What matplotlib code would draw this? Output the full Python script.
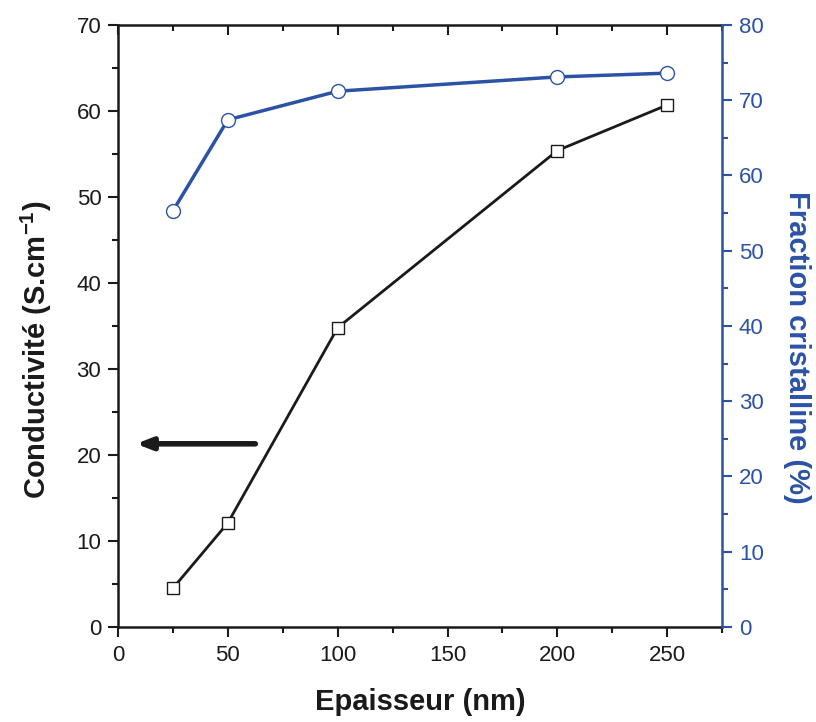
import matplotlib
matplotlib.use('Agg')
import matplotlib.pyplot as plt
from matplotlib.ticker import MultipleLocator

plt.rcParams['font.family'] = ['Liberation Sans', 'DejaVu Sans']
plt.rcParams['mathtext.fontset'] = 'custom'
plt.rcParams['mathtext.bf'] = 'Liberation Sans:bold'
plt.rcParams['mathtext.rm'] = 'Liberation Sans'

# data
epaisseur = [25, 50, 100, 200, 250]
conductivite = [4.5, 12.1, 34.8, 55.4, 60.7]
fraction = [55.3, 67.4, 71.2, 73.1, 73.6]

blue = '#2b52a5'
dark = '#1a1a1a'

fig = plt.figure(figsize=(8.16, 7.22), dpi=100)
ax = fig.add_axes([0.1446, 0.1316, 0.7404, 0.8338])
ax2 = ax.twinx()

ax.plot(epaisseur, conductivite, color=dark, lw=2, marker='s', ms=8,
        mfc='white', mec=dark, mew=1)
ax2.plot(epaisseur, fraction, color=blue, lw=2.5, marker='o', ms=10,
         mfc='white', mec=blue, mew=1)

ax.set_xlim(0, 275)
ax.set_ylim(0, 70)
ax2.set_ylim(0, 80)

ax.xaxis.set_major_locator(MultipleLocator(50))
ax.xaxis.set_minor_locator(MultipleLocator(25))
ax.yaxis.set_major_locator(MultipleLocator(10))
ax.yaxis.set_minor_locator(MultipleLocator(5))
ax2.yaxis.set_major_locator(MultipleLocator(10))
ax2.yaxis.set_minor_locator(MultipleLocator(5))

ax.tick_params(axis='x', which='both', direction='out', top=False, labelsize=16,
               width=1.5, color=dark, labelcolor=dark, pad=6)
ax.tick_params(axis='x', which='major', length=7)
ax.tick_params(axis='x', which='minor', length=4)
ax.tick_params(axis='y', which='both', direction='out', labelsize=16, width=1.5,
               color=dark, labelcolor=dark, pad=5)
ax.tick_params(axis='y', which='major', length=7)
ax.tick_params(axis='y', which='minor', length=4)
ax2.tick_params(axis='y', which='both', direction='out', labelsize=16, width=1.5,
                color=blue, labelcolor=blue, pad=5)
ax2.tick_params(axis='y', which='major', length=7)
ax2.tick_params(axis='y', which='minor', length=4)

# inward ticks along the top
top = ax.secondary_xaxis('top')
top.xaxis.set_major_locator(MultipleLocator(50))
top.xaxis.set_minor_locator(MultipleLocator(25))
top.tick_params(axis='x', which='both', direction='in', labeltop=False, width=1.5,
                color=dark)
top.tick_params(axis='x', which='major', length=7)
top.tick_params(axis='x', which='minor', length=4)
top.spines['top'].set_visible(False)

for s in ['left', 'bottom', 'top']:
    ax.spines[s].set_linewidth(1.8)
    ax.spines[s].set_color(dark)
ax.spines['right'].set_visible(False)
for s in ['left', 'bottom', 'top']:
    ax2.spines[s].set_visible(False)
ax2.spines['right'].set_linewidth(1.8)
ax2.spines['right'].set_color(blue)

ax.set_xlabel('Epaisseur (nm)', fontsize=21, fontweight='bold', color=dark,
              labelpad=16)
ax.set_ylabel('Conductivité (S.cm$^{\\mathbf{-1}}$)', fontsize=21, fontweight='bold',
              color=dark, labelpad=16)
ax2.set_ylabel('Fraction cristalline (%)', fontsize=21, fontweight='bold',
               color=blue, rotation=270, labelpad=34)
ax.yaxis.label.set_y(0.46)
ax2.yaxis.label.set_y(0.465)

ax.annotate('', xy=(8.2, 21.3), xytext=(62.5, 21.3),
            arrowprops=dict(arrowstyle='-|>,head_length=0.9,head_width=0.35',
                            color=dark, lw=4, shrinkA=0, shrinkB=0,
                            capstyle='round'))

fig.savefig('out.png', dpi=100)
